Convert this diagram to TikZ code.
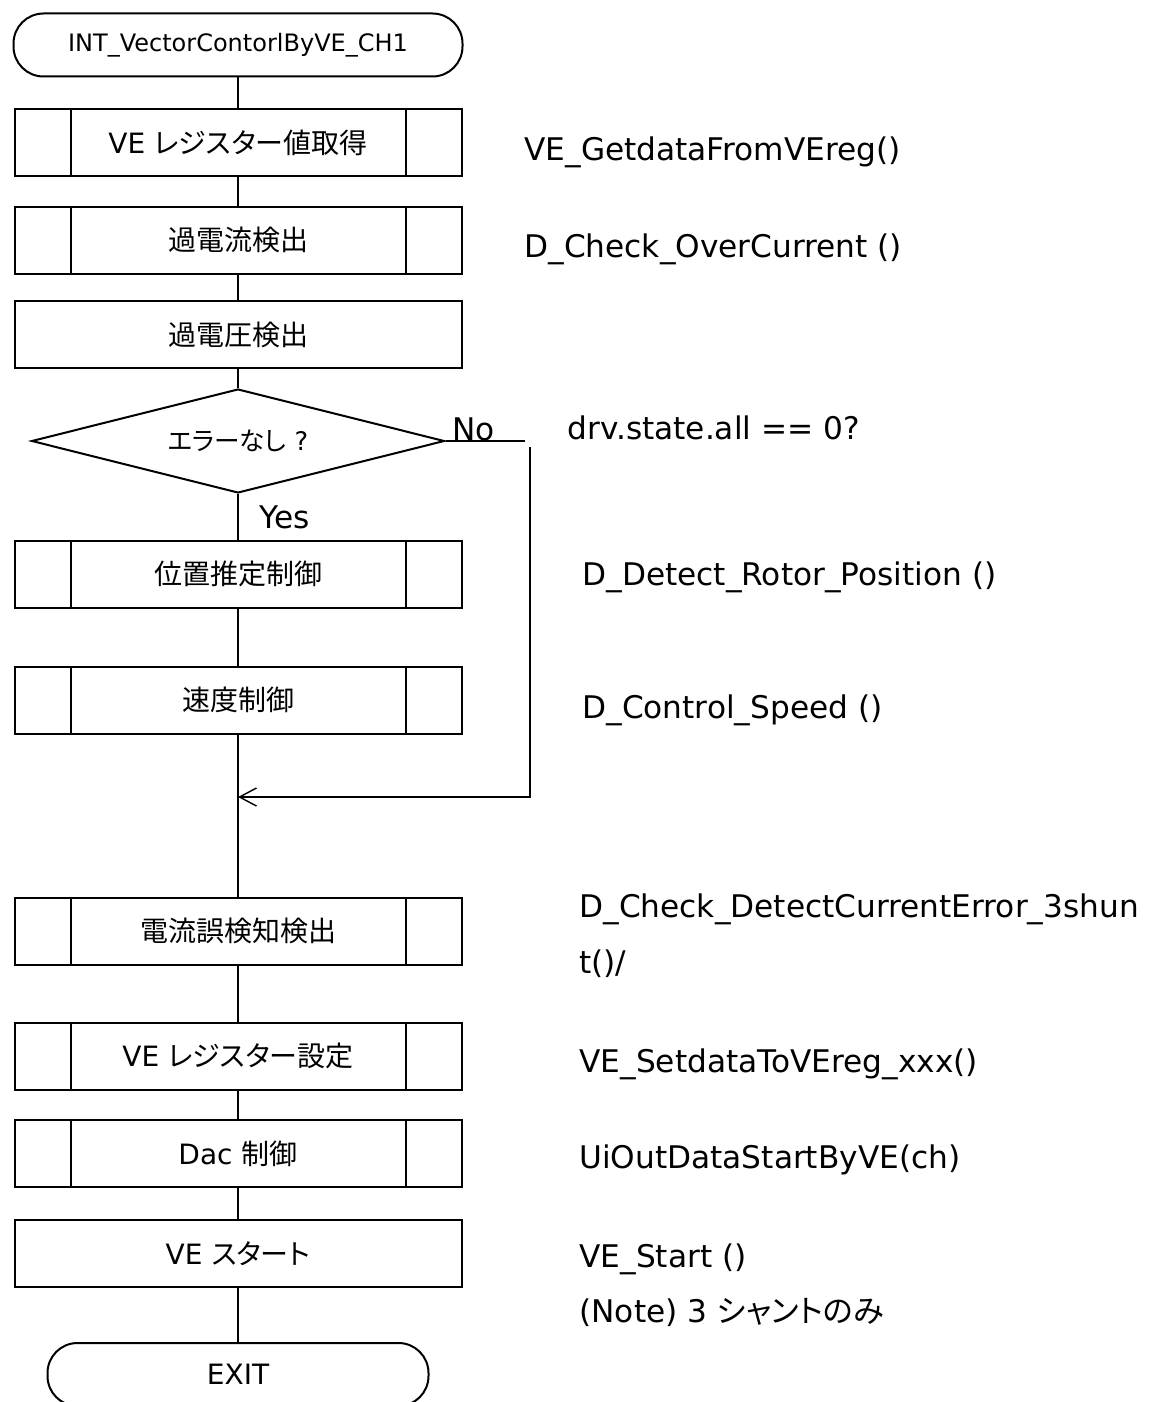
\documentclass[tikz,border=0pt]{standalone}
\usepackage{fontspec}
\setmainfont{DejaVu Sans}
\newfontfamily\jp[RawFeature=+palt]{Noto Sans CJK JP}
\usetikzlibrary{shapes.geometric,arrows.meta}
\tikzset{
	link/.style={line width=0.7pt},
	term/.style={draw, line width=1pt, rounded corners=15pt, minimum width=224.5pt,
		minimum height=31.5pt, inner sep=0pt, font=\fontsize{12}{14}\selectfont},
	proc/.style={draw, line width=1pt, minimum width=223.5pt, minimum height=33.5pt,
		inner sep=0pt, font=\fontsize{14}{16}\selectfont},
	subproc/.style={proc, path picture={
		\draw[line width=1pt] ([xshift=28pt]path picture bounding box.north west) -- ([xshift=28pt]path picture bounding box.south west)
			([xshift=-28pt]path picture bounding box.north east) -- ([xshift=-28pt]path picture bounding box.south east);}},
	decide/.style={draw, diamond, aspect=4, line width=1pt, minimum width=206.5pt,
		minimum height=52pt, inner sep=0pt, font=\fontsize{12.8}{15}\selectfont},
	note/.style={anchor=base west, inner sep=0pt, font=\fontsize{15.6}{18}\selectfont}
}
\begin{document}
\begin{tikzpicture}[x=0.5pt,y=-0.5pt]
		\useasboundingbox (0,0) rectangle (1153,1402);
		% main flow
		\node[term] (start) at (238,45) {INT\_VectorContorlByVE\_CH1};
		\node[subproc] (getreg) at (238,142.5) {VE {\jp レジスター値取得}};
		\node[subproc] (overcur) at (238,240) {\jp 過電流検出};
		\node[proc] (overvolt) at (238,334.5) {\jp 過電圧検出};
		\node[decide] (noerr) at (238,441) {{\jp エラーなし} ?};
		\node[subproc] (rotorpos) at (238,574) {\jp 位置推定制御};
		\node[subproc] (speed) at (238,700) {\jp 速度制御};
		\coordinate (merge) at (238,797);
		\node[subproc] (curerr) at (238,931) {\jp 電流誤検知検出};
		\node[subproc] (setreg) at (238,1056) {VE {\jp レジスター設定}};
		\node[subproc] (dac) at (238,1153.5) {Dac {\jp 制御}};
		\node[proc] (vestart) at (238,1253.5) {VE {\jp スタート}};
		\node[term, minimum width=190.5pt, font=\fontsize{14}{16}\selectfont] (exit) at (238,1374.5) {EXIT};
		\foreach \a/\b in {start/getreg, getreg/overcur, overcur/overvolt, overvolt/noerr,
			noerr/rotorpos, rotorpos/speed, curerr/setreg, setreg/dac, dac/vestart, vestart/exit}
			\draw[link] (\a) -- (\b);
		\draw[link] (speed) -- (merge) -- (curerr);
		% no branch
		\node[note, anchor=base west] (nolbl) at (452,440) {No};
		\node[note, anchor=center] (yeslbl) at (285,517) {Yes};
		\coordinate (noend) at (525,441);
		\coordinate (nodown) at (530,447);
		\coordinate (nobot) at (530,797);
		\draw[link] (noerr.east) -- (noend);
		\draw[link, -{Straight Barb[length=8.5pt,width=9pt]}] (nodown) -- (nobot) -- (merge);
		% function names
		\node[note] (fget) at (524,160) {VE\_GetdataFromVEreg()};
		\node[note] (fover) at (524,257) {D\_Check\_OverCurrent ()};
		\node[note] (fstate) at (567,439) {drv.state.all == 0?};
		\node[note] (frotor) at (582,585) {D\_Detect\_Rotor\_Position ()};
		\node[note] (fspeed) at (582,718) {D\_Control\_Speed ()};
		\node[note] (fcur) at (579,917) {D\_Check\_DetectCurrentError\_3shun};
		\node[note] (fcurb) at (579,973) {t()/};
		\node[note] (fset) at (579,1072) {VE\_SetdataToVEreg\_xxx()};
		\node[note] (fdac) at (579,1168) {UiOutDataStartByVE(ch)};
		\node[note] (fstart) at (579,1267) {VE\_Start ()};
		\node[note] (fnote) at (579,1322) {(Note) 3 {\jp シャントのみ}};
	\end{tikzpicture}
\end{document}
